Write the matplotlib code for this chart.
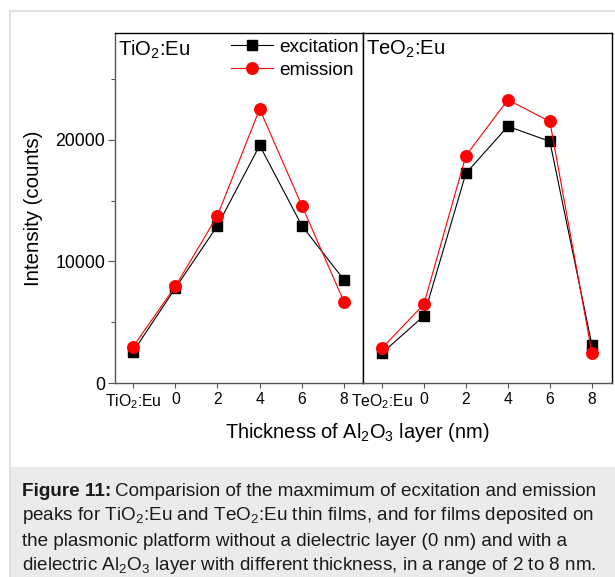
import numpy as np
import matplotlib
matplotlib.use("Agg")
import matplotlib.pyplot as plt
from matplotlib.patches import Rectangle
from matplotlib.lines import Line2D

plt.rcParams['font.family'] = ['Liberation Sans', 'DejaVu Sans']
plt.rcParams['mathtext.fontset'] = 'custom'
plt.rcParams['mathtext.rm'] = 'Liberation Sans'
plt.rcParams['mathtext.it'] = 'Liberation Sans:italic'
plt.rcParams['mathtext.bf'] = 'Liberation Sans:bold'

# data
ti_labels = ['TiO$_\\mathregular{2}$:Eu', '0', '2', '4', '6', '8']
te_labels = ['TeO$_\\mathregular{2}$:Eu', '0', '2', '4', '6', '8']
ti_excitation = [2580, 7800, 12950, 19550, 12950, 8480]
ti_emission = [2990, 7950, 13780, 22550, 14600, 6680]
te_excitation = [2450, 5520, 17250, 21120, 19880, 3150]
te_emission = [2860, 6480, 18700, 23300, 21520, 2500]

W, H = 615, 577
fig = plt.figure(figsize=(W / 100, H / 100), dpi=100)

# page frame and caption box
fig.add_artist(Line2D([10 / W, 10 / W], [0, 1 - 11 / H], color='#dcdcdc', lw=1.2))
fig.add_artist(Line2D([10 / W, 1], [1 - 11 / H, 1 - 11 / H], color='#dcdcdc', lw=1.2))
fig.add_artist(Rectangle((10 / W, 0), 1 - 10 / W, 110 / H, transform=fig.transFigure,
                         facecolor='#ebebeb', edgecolor='none'))

ax1 = fig.add_axes([115 / W, 194 / H, 248 / W, 350 / H])
ax2 = fig.add_axes([363 / W, 194 / H, 249 / W, 350 / H])

for ax, lab, exc, emi, name in [(ax1, ti_labels, ti_excitation, ti_emission, 'TiO$_\\mathregular{2}$:Eu'),
                                (ax2, te_labels, te_excitation, te_emission, 'TeO$_\\mathregular{2}$:Eu')]:
    x = np.arange(len(lab))
    ax.plot(x, exc, color='black', lw=0.8, marker='s', ms=7.2, label='excitation')
    ax.plot(x, emi, color='red', lw=0.8, marker='o', ms=8.3, label='emission')
    ax.set_ylim(0, 28800)
    ax.set_xticks(x)
    ax.set_xticklabels(lab, fontsize=11.3)
    ax.tick_params(axis='x', direction='out', length=3.5, width=0.8, color='#555555', pad=3)
    ax.text(0.012, 0.985, name, transform=ax.transAxes, ha='left', va='top', fontsize=14.6)
    for s in ['left', 'bottom']:
        ax.spines[s].set_color('#555555')
    for s in ax.spines.values():
        s.set_linewidth(1.0)

ax1.set_xlim(-0.43, 5.45)
ax2.set_xlim(-0.45, 5.48)
ax1.set_yticks([0, 10000, 20000])
ax1.set_yticks([5000, 15000, 25000], minor=True)
ax1.tick_params(axis='y', which='major', direction='out', length=5, width=0.8, color='#555555',
                labelsize=12.7, pad=2)
ax1.tick_params(axis='y', which='minor', direction='out', length=3, width=0.8, color='#555555')
ax2.set_yticks([])
ax2.spines['left'].set_color('black')

ax1.legend(loc='upper left', bbox_to_anchor=(0.46, 0.99), frameon=False, fontsize=13.7,
           handlelength=2.2, handletextpad=0.35, labelspacing=0.32, borderpad=0.1,
           borderaxespad=0)

fig.text(34 / W, 1 - 208 / H, 'Intensity (counts)', rotation=90, ha='center', va='center',
         fontsize=14.7)
fig.text(357 / W, 1 - 433 / H, 'Thickness of Al$_\\mathregular{2}$O$_\\mathregular{3}$ layer (nm)',
         ha='center', va='center', fontsize=14.4)

caption = [
    'Comparision of the maxmimum of ecxitation and emission',
    'peaks for TiO$_\\mathregular{2}$:Eu and TeO$_\\mathregular{2}$:Eu thin films, and for films deposited on',
    'the plasmonic platform without a dielectric layer (0 nm) and with a',
    'dielectric Al$_\\mathregular{2}$O$_\\mathregular{3}$ layer with different thickness, in a range of 2 to 8 nm.',
]
cap_size = 13.6
bold = fig.text(22 / W, 1 - 491 / H, 'Figure 11:', ha='left', va='center', fontsize=cap_size,
                fontweight='bold', color='#1a1a1a')
fig.canvas.draw()
bb = bold.get_window_extent()
for i, line in enumerate(caption):
    x0 = (bb.x1 + 4) / W if i == 0 else 22 / W
    fig.text(x0, 1 - (491 + 25 * i) / H, line, ha='left', va='center', fontsize=cap_size,
             color='#1a1a1a')

fig.savefig('out.png', dpi=100)
